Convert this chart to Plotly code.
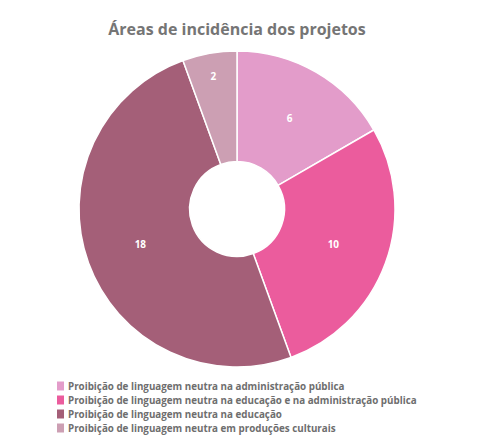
import plotly.graph_objects as go

categorias = [
    "Proibição de linguagem neutra na administração pública",
    "Proibição de linguagem neutra na educação e na administração pública",
    "Proibição de linguagem neutra na educação",
    "Proibição de linguagem neutra em produções culturais",
]
projetos = [6, 10, 18, 2]
cores = ["#e39cca", "#eb5c9d", "#a45f78", "#cc9fb3"]

W, H = 486, 447
# a página tem margem de 8px no body, então desconto isso nas posições
OFF = 8

def px(x):
    return (x - OFF) / W

def py(y):
    return 1 - (y - OFF) / H

fig = go.Figure()
fig.add_trace(go.Pie(
    labels=categorias,
    values=projetos,
    hole=0.3,
    sort=False,
    direction="clockwise",
    rotation=0,
    marker=dict(colors=cores, line=dict(color="white", width=1.5)),
    textinfo="value",
    textposition="inside",
    insidetextorientation="horizontal",
    textfont=dict(color="white", size=10, family="Open Sans", weight="bold"),
    domain=dict(x=[px(78), px(396)], y=[py(367), py(51)]),
    hoverinfo="label+value",
    showlegend=False,
))

# legenda compacta (a legenda nativa do plotly tem espaçamento maior)
y0 = 386
passo = 14
for i, (nome, cor) in enumerate(zip(categorias, cores)):
    yc = y0 + i * passo
    fig.add_shape(
        type="rect", xref="paper", yref="paper",
        x0=px(57), x1=px(64),
        y0=py(yc + 4.5), y1=py(yc - 4.5),
        fillcolor=cor, line=dict(width=0),
    )
    fig.add_annotation(
        text=nome, xref="paper", yref="paper",
        x=px(66), y=py(yc), xanchor="left", yanchor="middle",
        showarrow=False,
        font=dict(family="Open Sans", size=9.8, color="#6e6e6e", weight="bold"),
    )

fig.update_layout(
    width=W,
    height=H,
    margin=dict(l=0, r=0, t=0, b=0),
    paper_bgcolor="white",
    title=dict(
        text="Áreas de incidência dos projetos",
        x=px(237), xanchor="center", y=py(29), yanchor="middle",
        font=dict(family="Open Sans", size=16, color="#757575", weight="bold"),
    ),
    showlegend=False,
)

fig.write_html("out.html")
